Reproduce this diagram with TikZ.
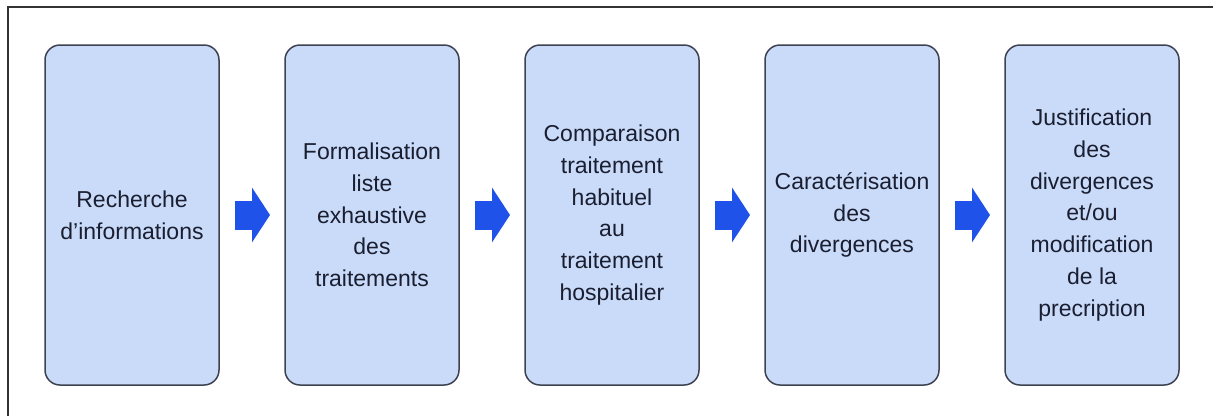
\documentclass[tikz,border=0pt]{standalone}
\usepackage{fontspec}
\setmainfont{Liberation Sans}
\usetikzlibrary{positioning,arrows.meta}
\definecolor{boxfill}{RGB}{201,219,248}
\definecolor{boxline}{RGB}{62,66,80}
\definecolor{arrowblue}{RGB}{30,82,232}
\definecolor{textnavy}{RGB}{26,30,48}
\begin{document}
\begin{tikzpicture}[
  x=1pt, y=-1pt,
  block/.style={rectangle, rounded corners=15pt, draw=boxline, fill=boxfill, line width=1.5pt, outer sep=0pt,
    minimum width=174pt, minimum height=340pt, align=center, text=textnavy,
    font=\fontsize{23}{31.7}\selectfont},
  flow/.style={arrowblue, line width=29pt, -{Triangle[length=18pt, width=54pt]}},
  node distance=66pt
]
\useasboundingbox (0,0) rectangle (1213,416);
\draw[line width=1.5pt, black!80] (1213,7) -- (8,7) -- (8,416);

\node[block] (rech) at (132,215) {Recherche\\d’informations};
\node[block, right=of rech] (form) {Formalisation\\liste\\exhaustive\\des\\traitements};
\node[block, right=of form] (comp) {Comparaison\\traitement\\habituel\\au\\traitement\\hospitalier};
\node[block, right=of comp] (cara) {Caractérisation\\des\\divergences};
\node[block, right=of cara] (just) {Justification\\des\\divergences\\et/ou\\modification\\de la\\precription};

\draw[flow] ([xshift=16pt]rech.east) -- ([xshift=-15pt]form.west);
\draw[flow] ([xshift=16pt]form.east) -- ([xshift=-15pt]comp.west);
\draw[flow] ([xshift=16pt]comp.east) -- ([xshift=-15pt]cara.west);
\draw[flow] ([xshift=16pt]cara.east) -- ([xshift=-15pt]just.west);
\end{tikzpicture}
\end{document}
